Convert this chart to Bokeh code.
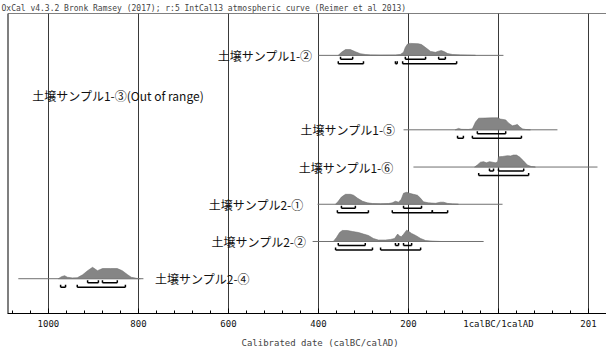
from bokeh.plotting import figure
from bokeh.models import Range1d, FixedTicker, Span, Title
from bokeh.core.properties import value
from bokeh.embed import file_html
from bokeh.resources import INLINE

# ---------------- data ----------------
TITLE = "OxCal v4.3.2 Bronk Ramsey (2017); r:5 IntCal13 atmospheric curve (Reimer et al 2013)"
X_LABEL = "Calibrated date (calBC/calAD)"
TICK_YEARS = [-1000, -800, -600, -400, -200, 0, 200]
TICK_LABELS = ["1000", "800", "600", "400", "200", "1calBC/1calAD", "201"]

names = ["土壌サンプル1-②", "土壌サンプル1-③(Out of range)", "土壌サンプル1-⑤",
         "土壌サンプル1-⑥", "土壌サンプル2-①", "土壌サンプル2-②", "土壌サンプル2-④"]

# sample 1-2
s12_range = [-400, 11]
s12_years = [-356, -349, -340, -329, -318, -307, -296, -284, -262, -229, -218, -211, -207, -202,
             -196, -178, -171, -162, -151, -140, -133, -127, -120, -113, -102, -84, -69, -51]
s12_prob = [0, .25, .48, .48, .3, .14, .07, .04, .02, .03, .08, .25, .67, .95,
            1, .97, .9, .65, .33, .25, .35, .4, .3, .15, .07, .04, .02, 0]
s12_1sig = [(-351, -324), (-207, -162), (-133, -118)]
s12_2sig = [(-356, -300), (-229, -225), (-213, -93)]

# sample 1-5
s15_range = [-211, 131]
s15_years = [-96, -89, -82, -67, -58, -51, -44, -30, -15, -2, 4, 16, 22, 31, 38, 42, 47, 53, 60, 71]
s15_prob = [0, .12, .04, .03, .08, .65, .97, .98, 1, 1, .9, .83, .58, .33, .4, .45, .25, .08, .03, 0]
s15_1sig = [(-47, 16)]
s15_2sig = [(-91, -78), (-58, 51)]

# sample 1-6
s16_range = [-189, 220]
s16_years = [-53, -47, -40, -33, -27, -20, -13, -7, -2, 0, 9, 20, 27, 33, 40, 47, 56, 64, 73, 82]
s16_prob = [0, .17, .4, .45, .35, .45, .4, .35, .42, .85, .88, .95, .92, 1, 1, .83, .5, .17, .04, 0]
s16_1sig = [(-20, -11), (0, 56)]
s16_2sig = [(-44, 67)]

# sample 2-1
s21_range = [-402, 9]
s21_years = [-362, -356, -349, -340, -329, -322, -313, -302, -291, -280, -262, -244, -236, -229, -222,
             -216, -211, -204, -198, -189, -180, -173, -167, -156, -140, -129, -122, -113, -102, -89]
s21_prob = [0, .25, .6, .83, .83, .75, .5, .25, .12, .06, .04, .06, .12, .25, .17,
            .42, .92, 1, .92, .83, .75, .5, .21, .12, .08, .17, .17, .07, .03, 0]
s21_1sig = [(-349, -318), (-211, -171)]
s21_2sig = [(-358, -289), (-236, -147), (-147, -113)]

# sample 2-2
s22_range = [-413, -33]
s22_years = [-367, -360, -353, -347, -336, -324, -311, -300, -289, -278, -267, -251, -240,
             -231, -224, -220, -216, -211, -204, -200, -193, -184, -173, -162, -147, -129]
s22_prob = [0, .33, .75, .92, .92, .83, .75, .62, .5, .25, .12, .12, .17,
            .25, .62, .45, .4, .6, .95, .85, .67, .5, .25, .08, .03, 0]
s22_1sig = [(-356, -296), (-229, -222), (-211, -193)]
s22_2sig = [(-362, -280), (-262, -173)]

# sample 2-4
s24_range = [-1067, -789]
s24_years = [-978, -971, -964, -958, -947, -936, -924, -913, -902, -891, -880, -862, -847, -836,
             -824, -816, -804, -796]
s24_prob = [0, .17, .25, .12, .07, .08, .33, .67, .95, .67, .85, .85, .85, .67, .33, .12, .03, 0]
s24_1sig = [(-913, -889), (-880, -847)]
s24_2sig = [(-973, -962), (-936, -829)]

samples = [
    (0, s12_range, s12_years, s12_prob, s12_1sig, s12_2sig),
    (2, s15_range, s15_years, s15_prob, s15_1sig, s15_2sig),
    (3, s16_range, s16_years, s16_prob, s16_1sig, s16_2sig),
    (4, s21_range, s21_years, s21_prob, s21_1sig, s21_2sig),
    (5, s22_range, s22_years, s22_prob, s22_1sig, s22_2sig),
    (6, s24_range, s24_years, s24_prob, s24_1sig, s24_2sig),
]

# ---------------- layout ----------------
ROW_PX = 37.35          # pixels between rows
ROW0_ABS = 54           # absolute y of first row
FRAME_TOP_ABS = 12
FRAME_BOTTOM_ABS = 313
FRAME_LEFT = 7
X_START, X_END = -1091, 240
PEAK = 12 / ROW_PX
SIG1 = 4 / ROW_PX
SIG2 = 8.5 / ROW_PX
TICK = 2.5 / ROW_PX
GAP = 6 / 0.45  # 6 px in years

y_top = (FRAME_TOP_ABS - ROW0_ABS) / ROW_PX
y_bottom = (FRAME_BOTTOM_ABS - ROW0_ABS) / ROW_PX

p = figure(width=606, height=351, x_range=Range1d(X_START, X_END),
           y_range=Range1d(y_bottom, y_top), output_backend="svg",
           toolbar_location=None, y_axis_location=None,
           min_border_left=FRAME_LEFT, min_border_right=0, min_border_top=0, min_border_bottom=0)
p.outline_line_color = None
p.background_fill_color = "white"
p.border_fill_color = "white"

p.title.text = TITLE
p.title.text_font = "DejaVu Sans Mono"
p.title.text_font_size = "8px"
p.title.text_font_style = "normal"
p.title.standoff = 2
p.title.align = "left"
p.title.offset = -6

ax = p.xaxis[0]
ax.ticker = FixedTicker(ticks=TICK_YEARS, minor_ticks=list(range(-1080, 240, 40)))
ax.major_label_overrides = {t: l for t, l in zip(TICK_YEARS, TICK_LABELS)}
ax.major_label_text_font = "DejaVu Sans Mono"
ax.major_label_text_font_size = "9px"
ax.major_label_text_color = "#111111"
ax.major_label_standoff = 5
ax.major_tick_in = 5
ax.major_tick_out = 0
ax.minor_tick_in = 3
ax.minor_tick_out = 0
ax.axis_line_color = "black"
ax.major_tick_line_color = "black"
ax.minor_tick_line_color = "black"

p.xgrid.grid_line_color = "#3a3a3a"
p.xgrid.grid_line_width = 1
p.ygrid.grid_line_color = None

p.add_layout(Title(text=X_LABEL, align="left", offset=234, text_font="DejaVu Sans Mono",
                   text_font_size="9px", text_font_style="normal", standoff=8), "below")

p.add_layout(Span(location=X_START, dimension="height", line_color="black", line_width=2))
p.add_layout(Span(location=y_top, dimension="width", line_color="black", line_width=1))

for row, rng, yrs, prob, one, two in samples:
    p.segment(x0=[rng[0]], y0=[row], x1=[rng[1]], y1=[row], line_color="#707070", line_width=1)
    p.patch(x=yrs, y=[row - v * PEAK for v in prob], fill_color="#858585",
            line_color="#707070", line_width=0.6)
    for off, ranges in ((SIG1, one), (SIG2, two)):
        yb = row + off
        p.segment(x0=[a for a, b in ranges], y0=[yb] * len(ranges),
                  x1=[b for a, b in ranges], y1=[yb] * len(ranges),
                  line_color="black", line_width=1.5)
        ends = [a for a, b in ranges] + [b for a, b in ranges]
        p.segment(x0=ends, y0=[yb] * len(ends), x1=ends, y1=[yb - TICK] * len(ends),
                  line_color="black", line_width=1.5)

# labels
right_rows = [0, 2, 3, 4, 5]
right_x = [s12_range[0] - GAP, -229, -233, -433, -427]
p.text(x=right_x, y=right_rows, text=[names[i] for i in right_rows], text_align="right",
       text_baseline="middle", text_font=value("Noto Sans CJK JP"), text_font_size="12px",
       text_color="#111111")
p.text(x=[s24_range[1] + 26], y=[6], text=[names[6]], text_align="left",
       text_baseline="middle", text_font=value("Noto Sans CJK JP"), text_font_size="12px",
       text_color="#111111")
p.text(x=[-1036], y=[1.08], text=[names[1]], text_align="left",
       text_baseline="middle", text_font=value("Noto Sans CJK JP"), text_font_size="12px",
       text_color="#111111")

open("out.html", "w").write(file_html(p, INLINE))
